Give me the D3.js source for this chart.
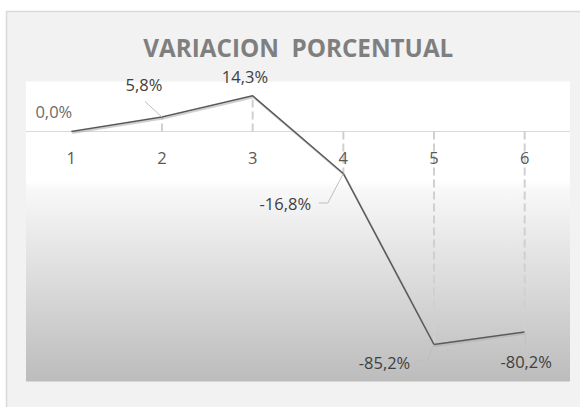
<!DOCTYPE html>
<html><head><meta charset="utf-8">
<script src="https://cdn.jsdelivr.net/npm/d3@7"></script>
<style>
html,body{margin:0;padding:0;background:#fff;}
svg{display:block;}
text{font-family:"Open Sans",sans-serif;}
</style></head>
<body>
<svg id="chart" width="580" height="407"></svg>
<script>
// ---- data ----
const categories = ["1","2","3","4","5","6"];
const values = [0.0, 5.8, 14.3, -16.8, -85.2, -80.2];
const valueLabels = ["0,0%","5,8%","14,3%","-16,8%","-85,2%","-80,2%"];
const yDomain = [-100, 20];
const title = "VARIACION  PORCENTUAL";

// ---- layout (label offsets relative to each point) ----
const labelOffsets = [[-17.5,-13.5],[-18,-26],[-7.7,-13],[-58,36.5],[-49.5,24.5],[1.5,36.3]];
const leaderPaths = [null, [[-17,-15.5],[0,0]], null, [[-24.5,29.5],[-15.5,29.5],[0,0]], [[-17,16.5],[-7,16.5],[0,0]], [[0,0],[1,13.5]]];
const labelColors = ["#6b6b6b","#404040","#404040","#404040","#404040","#404040"];

const svg = d3.select("#chart");
const plot = {left:26, right:570, top:81.5, bottom:381.5};

// frame
svg.append("rect").attr("x",6.5).attr("y",11.5).attr("width",600).attr("height",420)
  .attr("fill","#f2f2f2").attr("stroke","#d9d9d9").attr("stroke-width",1.5);

// gradient
const defs = svg.append("defs");
const g1 = defs.append("linearGradient").attr("id","pg").attr("x1",0).attr("y1",0).attr("x2",0).attr("y2",1);
[[0,"#ffffff"],[0.33,"#ffffff"],[0.36,"#f8f8f8"],[1,"#bcbcbc"]].forEach(s=>g1.append("stop").attr("offset",s[0]).attr("stop-color",s[1]));

svg.append("rect").attr("x",plot.left).attr("y",plot.top).attr("width",plot.right-plot.left).attr("height",plot.bottom-plot.top).attr("fill","url(#pg)");

const x = d3.scaleBand().domain(categories).range([plot.left, plot.right]);
const y = d3.scaleLinear().domain(yDomain).range([plot.bottom, plot.top]);
const cx = c => x(c) + x.bandwidth()/2;

// axis line at 0
svg.append("line").attr("x1",plot.left).attr("x2",plot.right).attr("y1",y(0)).attr("y2",y(0))
  .attr("stroke","#d9d9d9").attr("stroke-width",1.2);

// drop lines
svg.append("g").selectAll("line").data(values).join("line")
  .attr("x1",(d,i)=>cx(categories[i])).attr("x2",(d,i)=>cx(categories[i]))
  .attr("y1",y(0)).attr("y2",d=>y(d))
  .attr("stroke","#d0d0d0").attr("stroke-width",2).attr("stroke-dasharray","8,4");

// tick labels
const axis = d3.axisBottom(x).tickSize(0).tickPadding(0);
const ag = svg.append("g").attr("transform",`translate(0,${y(0)})`).call(axis);
ag.select(".domain").remove();
ag.selectAll("text").attr("y",32).attr("dy",null).attr("font-size","16.5px").attr("fill","#595959")
  .style("font-family",'"Open Sans",sans-serif');

// line with shadow
const lineGen = d3.line().x((d,i)=>cx(categories[i])).y(d=>y(d));
svg.append("path").datum(values).attr("d",lineGen).attr("fill","none")
  .attr("stroke","#b0b0b0").attr("stroke-width",2).attr("opacity",0.6).attr("transform","translate(1,1.6)");
svg.append("path").datum(values).attr("d",lineGen).attr("fill","none")
  .attr("stroke","#595959").attr("stroke-width",1.5).attr("stroke-linejoin","round");

// leader lines
values.forEach((v,i)=>{
  const lp = leaderPaths[i]; if(!lp) return;
  const px = cx(categories[i]), py = y(v);
  svg.append("path").attr("d", d3.line()(lp.map(p=>[px+p[0], py+p[1]])))
    .attr("fill","none").attr("stroke","#bfbfbf").attr("stroke-width",1);
});

// data labels
svg.append("g").selectAll("text").data(values).join("text")
  .attr("x",(d,i)=>cx(categories[i])+labelOffsets[i][0])
  .attr("y",(d,i)=>y(d)+labelOffsets[i][1])
  .attr("text-anchor","middle").attr("font-size","16.5px")
  .attr("fill",(d,i)=>labelColors[i])
  .text((d,i)=>valueLabels[i]);

// title
svg.append("text").attr("x",298.3).attr("y",56.7).attr("text-anchor","middle")
  .attr("font-size","25px").attr("font-weight","bold").attr("fill","#7f7f7f")
  .style("white-space","pre").attr("textLength",310).attr("lengthAdjust","spacingAndGlyphs")
  .text(title);
</script>
</body></html>
